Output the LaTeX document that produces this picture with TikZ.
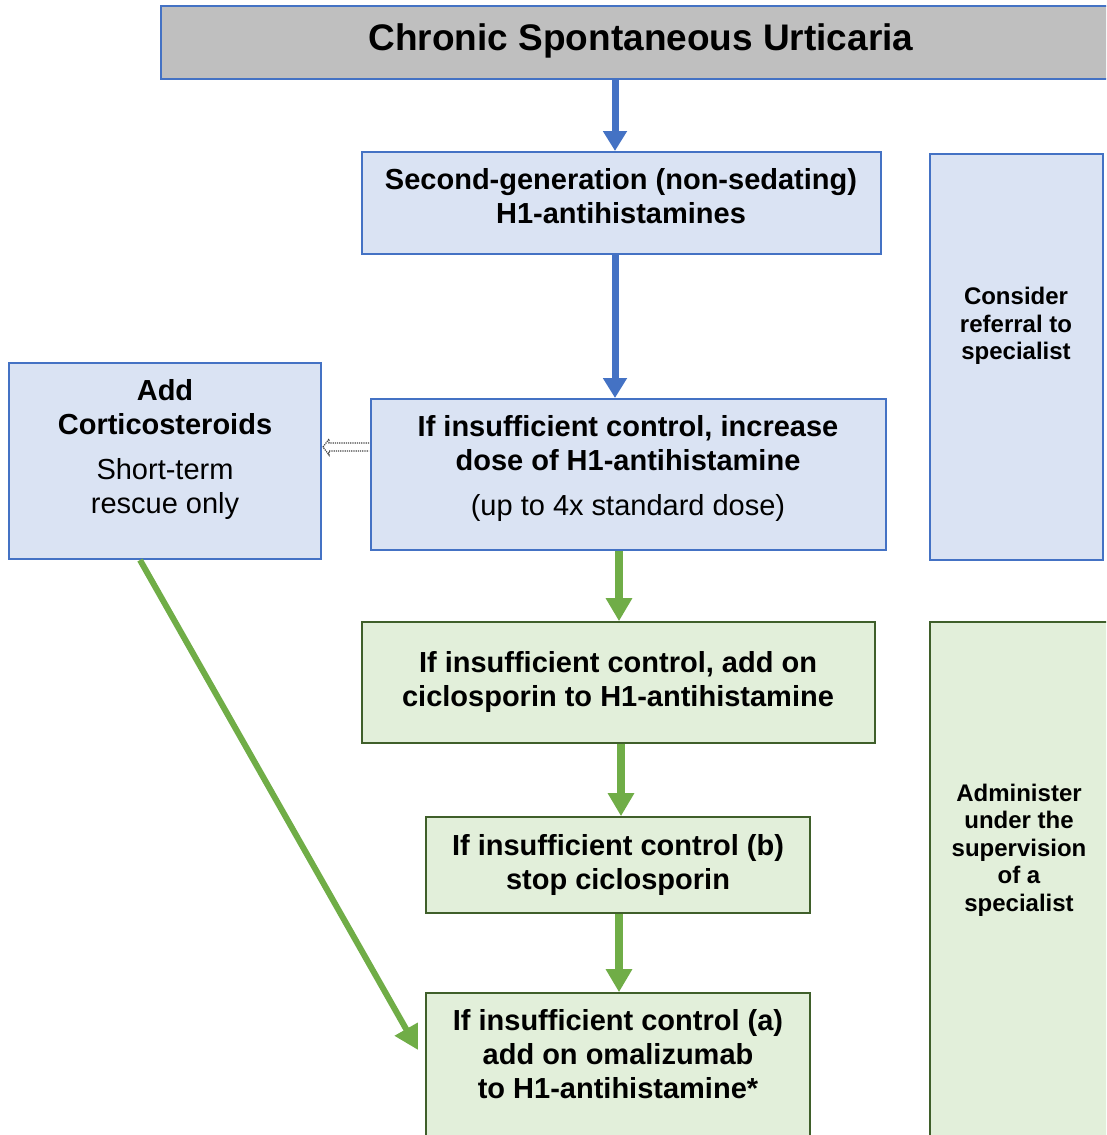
\documentclass[tikz,border=0pt]{standalone}
\usepackage{fontspec}
\setmainfont{Liberation Sans}
\usetikzlibrary{arrows.meta,calc}
\definecolor{bbord}{HTML}{4472C4}
\definecolor{bfill}{HTML}{DAE3F3}
\definecolor{gfill}{HTML}{E2EFDA}
\definecolor{gbord}{HTML}{3F5F2A}
\definecolor{garrow}{HTML}{70AD47}
\definecolor{hfill}{HTML}{BFBFBF}
\definecolor{dotgray}{HTML}{404040}
\begin{document}
\begin{tikzpicture}[x=1pt,y=-1pt,
  bluebox/.style={draw=bbord, fill=bfill, line width=2pt, inner sep=0pt},
  greenbox/.style={draw=gbord, fill=gfill, line width=1.6pt, inner sep=0pt},
  headbox/.style={draw=bbord, fill=hfill, line width=2pt, inner sep=0pt},
  txt/.style={inner sep=0pt, align=center, font=\fontsize{29}{34}\selectfont},
  smalltxt/.style={inner sep=0pt, align=center, font=\fontsize{24}{27.6}\selectfont\bfseries},
  barrow/.style={draw=bbord, line width=7pt, -{Triangle[length=20pt,width=23pt]}},
  garrowst/.style={draw=garrow, line width=7.5pt, -{Triangle[length=23pt,width=25pt]}},
]
\useasboundingbox (0,0) rectangle (1106,1135);
\clip (0,0) rectangle (1106,1135);

% boxes
\node[headbox, minimum width=951pt, minimum height=73pt] (hdr) at (636.5,42.5) {};
\node[bluebox, minimum width=519pt, minimum height=102pt] (b2) at (621.5,203) {};
\node[bluebox, minimum width=173pt, minimum height=406pt] (rb) at (1016.5,357) {};
\node[bluebox, minimum width=312pt, minimum height=196pt] (cor) at (165,461) {};
\node[bluebox, minimum width=515pt, minimum height=151pt] (b3) at (628.5,474.5) {};
\node[greenbox, minimum width=513pt, minimum height=121pt] (b4) at (618.5,682.5) {};
\node[greenbox, minimum width=185pt, minimum height=530pt] (rg) at (1022.5,887) {};
\node[greenbox, minimum width=384pt, minimum height=96pt] (b5) at (618,865) {};
\node[greenbox, minimum width=384pt, minimum height=160pt] (b6) at (618,1073) {};

% texts
\node[inner sep=0pt, font=\fontsize{37}{42}\selectfont\bfseries] (thdr) at (641,41) {Chronic Spontaneous Urticaria};
\node[txt, font=\fontsize{29}{34}\selectfont\bfseries] (t2) at (621,196) {Second-generation (non-sedating)\\H1-antihistamines};
\node[smalltxt] (trb) at (1016,326) {Consider\\referral to\\specialist};
\node[txt] (tcor) at (165,449.5) {\textbf{Add}\\\textbf{Corticosteroids}\\[11pt]Short-term\\rescue only};
\node[txt] (t3) at (628,468.5) {\textbf{If insufficient control, increase}\\\textbf{dose of H1-antihistamine}\\[11pt](up to 4x standard dose)};
\node[txt, font=\fontsize{29}{34}\selectfont\bfseries] (t4) at (618,682) {If insufficient control, add on\\ciclosporin to H1-antihistamine};
\node[smalltxt] (trg) at (1019,850) {Administer\\under the\\supervision\\of a\\specialist};
\node[txt, font=\fontsize{29}{34}\selectfont\bfseries] (t5) at (618,865) {If insufficient control (b)\\stop ciclosporin};
\node[txt, font=\fontsize{29}{34}\selectfont\bfseries] (t6) at (618,1054) {If insufficient control (a)\\add on omalizumab\\to H1-antihistamine*};

% connectors
\coordinate (xa) at (615,0);
\coordinate (xb) at (619,0);
\coordinate (xc) at (621,0);
\coordinate (xd) at (140,0);
\coordinate (ya) at (0,447);
\coordinate (dend) at (418,1050);
\draw[barrow] (hdr.south -| xa) -- (b2.north -| xa);
\draw[barrow] (b2.south -| xa) -- (b3.north -| xa);
\draw[garrowst] (b3.south -| xb) -- (b4.north -| xb);
\draw[garrowst] (b4.south -| xc) -- (b5.north -| xc);
\draw[garrowst] (b5.south -| xb) -- (b6.north -| xb);
\draw[draw=garrow, line width=6pt, -{Triangle[length=24pt,width=25pt]}] (cor.south -| xd) -- (dend);

% hollow dotted arrow from b3 to cor
\draw[dotgray, line width=1.2pt, densely dotted, fill=white]
  ($(b3.west |- ya)+(-1,-4)$) -- ($(cor.east |- ya)+(7,-4)$) -- ($(cor.east |- ya)+(7,-8)$) -- ($(cor.east |- ya)+(1,0)$)
  -- ($(cor.east |- ya)+(7,8)$) -- ($(cor.east |- ya)+(7,4)$) -- ($(b3.west |- ya)+(-1,4)$);
\end{tikzpicture}
\end{document}
